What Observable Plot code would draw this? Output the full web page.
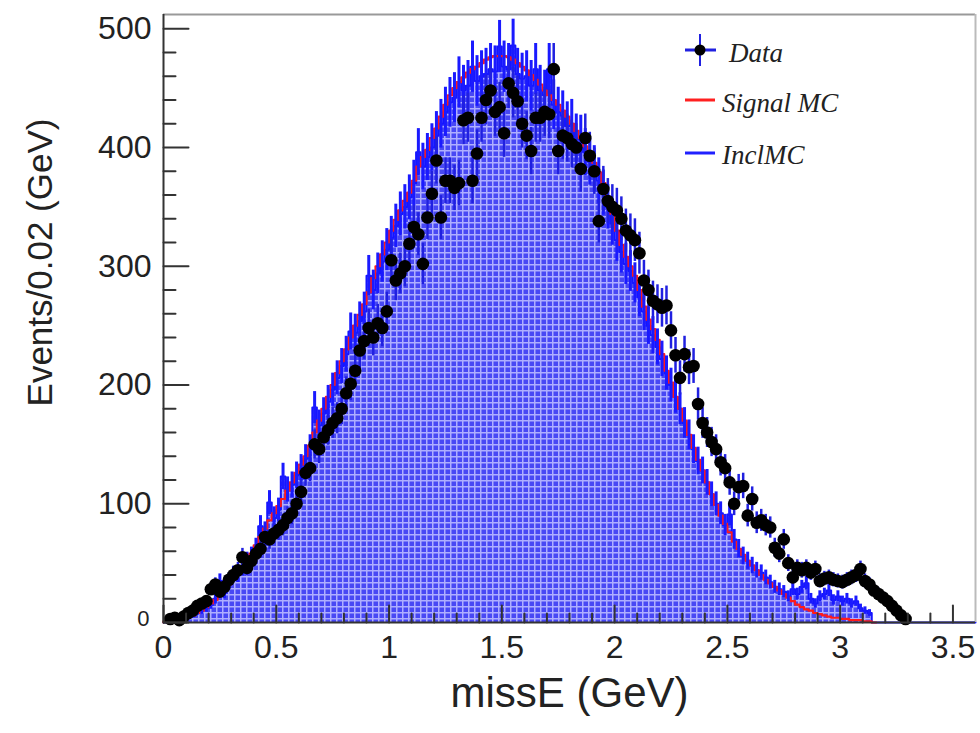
<!DOCTYPE html>
<html><head><meta charset="utf-8">
<script src="https://cdn.jsdelivr.net/npm/d3@7"></script>
<script src="https://cdn.jsdelivr.net/npm/@observablehq/plot@0.6"></script>
<style>
body{margin:0;background:#fff;}
#wrap{position:relative;width:980px;height:733px;overflow:hidden;}
#legend{position:absolute;left:0;top:0;}
</style></head><body>
<div id="wrap"></div>
<script>
const binWidth = 0.02;
const xMax = 3.6;
const yMax = 512;

// Signal MC (red step line), per bin of 0.02 GeV starting at 0
const signalMC = [1,2,3,3,4,5,6,8,10,13, 16,19,23,27,32,37,42,47,52,58, 65,72,79,86,92,98,104,111,118,126,
 133,140,149,160,170,180,190,200,210,220, 230,240,250,259,268,278,290,300,310,320,
 330,339,347,355,362,372,384,392,398,408, 416,426,436,444,450,455,459,463,466,468,
 471,474,476,477,477,477,476,474,471,468, 465,461,457,453,448,444,440,436,431,426,
 420,414,408,401,394,387,379,370,358,344, 330,318,308,300,292,280,266,255,247,238,
 226,212,202,190,180,170,158,147,137,128, 118,108,99,90,83,76,68,62,57,52,
 48,44,40,36,33,30,27,24,21,18, 15,13,11,10,8,7,6,5,4,4, 3,3,2,2,2,1,1,0];

// Inclusive MC (blue filled histogram with error bars)
const inclMC = [0,2,3,4,4,5,6,9,10,12, 15,20,35,25,34,41,40,46,52,56, 63,81,76,101,88,95,123,112,116,124,
 130,138,146,181,166,176,186,196,206,216, 226,245,244,254,262,292,280,294,304,314,
 324,334,344,350,358,370,396,384,392,400, 410,420,430,438,442,455,448,452,468,456,
 460,462,466,464,485,468,466,486,462,458, 460,452,466,448,444,466,436,430,427,418,
 420,408,407,396,388,382,372,362,350,336, 322,312,302,296,286,274,262,250,242,232,
 222,210,200,190,180,168,158,146,136,128, 118,108,100,92,82,91,70,62,56,52,
 48,44,42,38,34,30,28,26,22,28, 24,30,33,20,16,22,24,27,19,22, 18,20,16,18,12,10,8];

// Data (black points)
const dataCounts = [0,3,4,2,5,8,10,14,16,18, 28,32,26,30,36,40,44,55,46,52, 58,62,72,70,75,78,82,88,92,100,
 110,126,130,150,146,156,162,168,172,180, 193,201,212,229,237,248,240,252,248,262,
 305,288,294,300,319,333,327,302,341,361, 389,341,372,372,366,370,423,425,372,395,
 425,440,448,430,434,412,454,446,439,420, 410,397,425,425,430,428,466,397,410,408,
 403,400,382,408,393,380,338,365,355,350, 347,340,330,326,322,311,288,280,271,268,
 265,267,246,225,206,226,215,216,184,168, 160,152,146,135,130,118,100,114,115,90,
 104,84,86,82,80,63,58,70,50,38, 46,44,46,42,45,35,37,38,36,35,
 34,36,38,40,45,35,32,27,24,21, 18,14,10,6,3];

const yTickLabels = [100,200,300,400,500];
const yZeroLabel = [0];
const yMinorTicks = [20,40,60,80,120,140,160,180,220,240,260,280,320,340,360,380,420,440,460,480];
const xTickLabels = [0,0.5,1,1.5,2,2.5,3,3.5];
const xMinorTicks = [0.1,0.2,0.3,0.4,0.6,0.7,0.8,0.9,1.1,1.2,1.3,1.4,1.6,1.7,1.8,1.9,2.1,2.2,2.3,2.4,2.6,2.7,2.8,2.9,3.1,3.2,3.3,3.4];
const xTitle = "missE (GeV)";
const yTitle = "Events/0.02 (GeV)";
const legendItems = ["Data", "Signal MC", "InclMC"];

// tables built from arrays
const nBins = Math.round(xMax / binWidth);
const inclFull = inclMC.concat(new Array(nBins - inclMC.length).fill(0));
function stepPoints(values) {
  const pts = [{x: 0, v: 0}];
  values.forEach((v, i) => { pts.push({x: i * binWidth, v}); pts.push({x: (i + 1) * binWidth, v}); });
  pts.push({x: values.length * binWidth, v: 0});
  return pts;
}
const inclSteps = stepPoints(inclFull);
const sigSteps = stepPoints(signalMC);
const inclBins = inclMC.map((v, i) => ({x: (i + 0.5) * binWidth, v, e: Math.sqrt(v)})).filter(d => d.v > 0);
const dataBins = dataCounts.map((v, i) => ({x: (i + 0.5) * binWidth, v, e: Math.sqrt(v)})).filter(d => d.v > 0);

const tickShape = {draw(context, l) { context.moveTo(0, 0); context.lineTo(0, -l); }};
const axisColor = "#333";

const patternMark = () => {
  const ns = "http://www.w3.org/2000/svg";
  const defs = document.createElementNS(ns, "defs");
  defs.innerHTML = '<pattern id="mcgrid" width="6" height="6" patternUnits="userSpaceOnUse">' +
    '<rect width="6" height="6" fill="#4848f4"/>' +
    '<path d="M0 0.75H6M0.75 0V6" stroke="#aeaeff" stroke-width="1.5"/></pattern>';
  return defs;
};

const chart = Plot.plot({
  width: 980, height: 733,
  marginLeft: 163, marginRight: 5, marginTop: 14, marginBottom: 111,
  x: {domain: [0, xMax]},
  y: {domain: [0, yMax]},
  style: {fontFamily: "'Liberation Sans', Arial, sans-serif", background: "#fff", color: "#222"},
  marks: [
    patternMark,
    Plot.area(inclSteps, {x1: "x", y1: () => 0, y2: "v", fill: "url(#mcgrid)"}),
    Plot.line(inclSteps, {x: "x", y: "v", stroke: "#1515ff", strokeWidth: 2}),
    Plot.line(sigSteps, {x: "x", y: "v", stroke: "#ff1a1a", strokeWidth: 2.2}),
    Plot.ruleX(inclBins, {x: "x", y1: d => d.v - d.e, y2: d => d.v + d.e, stroke: "#1a1aff", strokeWidth: 3}),
    Plot.ruleX(dataBins, {x: "x", y1: d => d.v - d.e, y2: d => d.v + d.e, stroke: "#2020e0", strokeWidth: 2.5}),
    Plot.dot(dataBins, {x: "x", y: "v", r: 6.3, fill: "#000", stroke: null}),
    // frame
    Plot.ruleY([yMax], {stroke: "#999", strokeWidth: 2}),
    Plot.ruleX([xMax], {stroke: "#bbb", strokeWidth: 2}),
    Plot.ruleX([0], {stroke: axisColor, strokeWidth: 2}),
    Plot.ruleY([0], {stroke: axisColor, strokeWidth: 2}),
    // ticks (inward)
    Plot.vector([0, ...yTickLabels], {x: () => 0, y: d => d, length: 25, rotate: 90, anchor: "start", shape: tickShape, stroke: axisColor, strokeWidth: 2}),
    Plot.vector(yMinorTicks, {x: () => 0, y: d => d, length: 12, rotate: 90, anchor: "start", shape: tickShape, stroke: axisColor, strokeWidth: 2}),
    Plot.vector(xTickLabels, {x: d => d, y: () => 0, length: 17, rotate: 0, anchor: "start", shape: tickShape, stroke: axisColor, strokeWidth: 2}),
    Plot.vector(xMinorTicks, {x: d => d, y: () => 0, length: 9, rotate: 0, anchor: "start", shape: tickShape, stroke: axisColor, strokeWidth: 2}),
    // labels
    Plot.axisY(yTickLabels, {tickSize: 0, tickPadding: 12, fontSize: 32, label: null}),
    Plot.axisY(yZeroLabel, {tickSize: 0, tickPadding: 14, fontSize: 22, dy: -4, label: null}),
    Plot.axisX(xTickLabels, {tickSize: 0, tickPadding: 13, fontSize: 32, label: null, tickFormat: d => String(d)}),
    Plot.text([xTitle], {text: d => d, frameAnchor: "bottom", dy: 71, fontSize: 42, lineAnchor: "middle", fill: "#222"}),
    Plot.text([yTitle], {text: d => d, frameAnchor: "top-left", dx: -123, dy: 248, rotate: -90, fontSize: 35, textAnchor: "middle", lineAnchor: "middle", fill: "#222"})
  ]
});

const wrap = document.getElementById("wrap");
wrap.appendChild(chart);

// legend overlay
const ns = "http://www.w3.org/2000/svg";
const leg = document.createElementNS(ns, "svg");
leg.setAttribute("id", "legend");
leg.setAttribute("width", 980);
leg.setAttribute("height", 200);
leg.innerHTML =
  '<line x1="685" y1="50" x2="716" y2="50" stroke="#2020e0" stroke-width="3"/>' +
  '<line x1="700" y1="34" x2="700" y2="66" stroke="#2020e0" stroke-width="2"/>' +
  '<circle cx="700" cy="50" r="5.5" fill="#000"/>' +
  '<line x1="685" y1="100" x2="715" y2="100" stroke="#ff2020" stroke-width="3"/>' +
  '<line x1="685" y1="153" x2="715" y2="153" stroke="#2020ff" stroke-width="3"/>';
const ys = [62, 112, 164];
const xs = [729, 722, 722];
legendItems.forEach((t, i) => {
  const tx = document.createElementNS(ns, "text");
  tx.setAttribute("x", xs[i]);
  tx.setAttribute("y", ys[i]);
  tx.setAttribute("font-family", "'Liberation Serif', 'DejaVu Serif', serif");
  tx.setAttribute("font-style", "italic");
  tx.setAttribute("font-size", "27");
  tx.setAttribute("fill", "#222");
  tx.textContent = t;
  leg.appendChild(tx);
});
wrap.appendChild(leg);
</script>
</body></html>
